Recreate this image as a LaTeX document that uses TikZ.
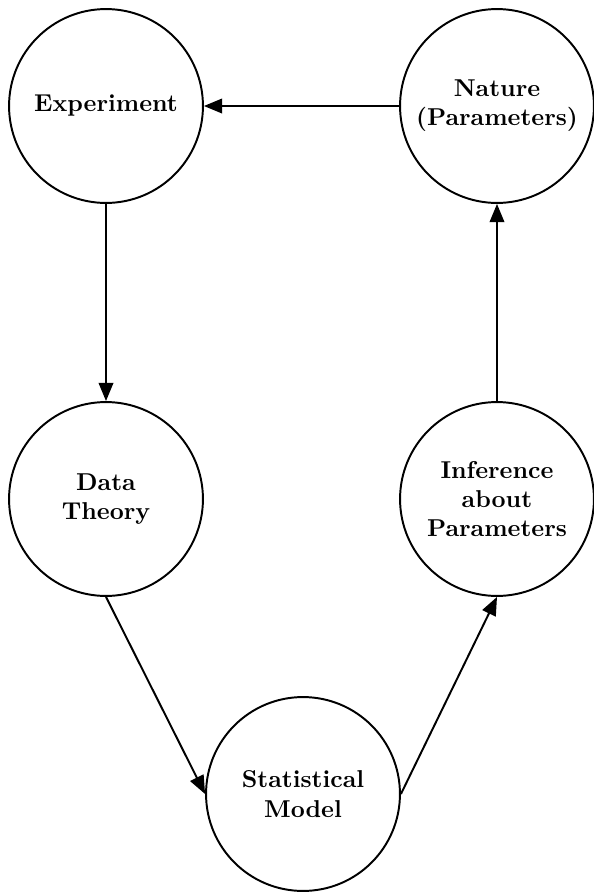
\documentclass[tikz,border=0pt]{standalone}
\usetikzlibrary{arrows.meta}
\begin{document}
\begin{tikzpicture}[x=0.41pt,y=-0.41pt,
  stage/.style={circle,draw,line width=0.8pt,minimum size=79.5pt,inner sep=0pt,align=center,font=\bfseries},
  flow/.style={line width=0.8pt,-{Triangle[length=7.5pt,width=6pt]}}]
\useasboundingbox (0,0) rectangle (594,892);
\node[stage] (E) at (106,106) {Experiment};
\node[stage] (N) at (497,106) {Nature\\(Parameters)};
\node[stage] (D) at (106,499) {Data\\Theory};
\node[stage] (I) at (497,499) {Inference\\about\\Parameters};
\node[stage] (S) at (303,794) {Statistical\\Model};
\draw[flow] (N.west) -- (E.east);
\draw[flow] (E.south) -- (D.north);
\draw[flow] (D.south) -- (S.west);
\draw[flow] (S.east) -- (I.south);
\draw[flow] (I.north) -- (N.south);
\end{tikzpicture}
\end{document}
